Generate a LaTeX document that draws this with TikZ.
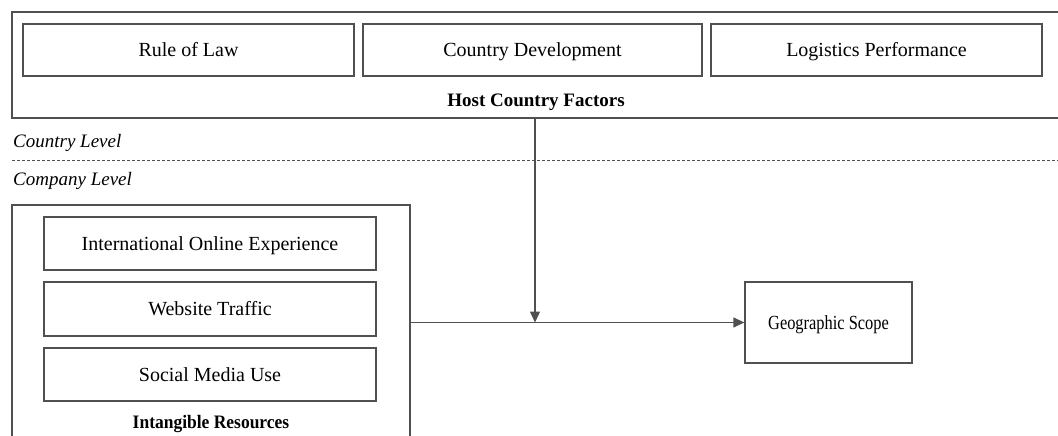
\documentclass[tikz,border=0pt]{standalone}
\usepackage{fontspec}
\setmainfont{Liberation Serif}
\usetikzlibrary{arrows.meta}
\definecolor{lin}{HTML}{505050}
\tikzset{
  box/.style={draw=lin, line width=1.3pt, rectangle, inner sep=0pt, text height=13pt, text depth=0pt, font=\fontsize{20}{24}\selectfont},
  container/.style={draw=lin, line width=1.3pt, rectangle, inner sep=0pt},
  boldlbl/.style={inner sep=0pt, font=\fontsize{19}{23}\selectfont\bfseries},
  levellbl/.style={inner sep=0pt, anchor=west, font=\fontsize{19}{23}\selectfont\itshape},
  conn/.style={draw=lin, line width=1.3pt},
  arr/.style={conn, -{Triangle[length=11pt,width=10pt]}}
}
\begin{document}
\begin{tikzpicture}[x=1pt,y=-1pt]
\clip (0,0) rectangle (1058,436);
\fill[white] (0,0) rectangle (1058,436);
% containers
\node[container, minimum width=1052pt, minimum height=106pt] (host) at (538,65) {};
\node[container, minimum width=398pt, minimum height=240pt] (intang) at (211,325) {};
% host country factors
\node[box, minimum width=331pt, minimum height=52pt] (rol) at (188.5,50) {Rule of Law};
\node[box, minimum width=339pt, minimum height=52pt] (cd) at (532.5,50) {Country Development};
\node[box, minimum width=331pt, minimum height=52pt] (lp) at (876.5,50) {Logistics Performance};
\node[boldlbl] (hostlbl) at (536,102) {Host Country Factors};
% levels
\node[levellbl] (cl) at (13,143) {Country Level};
\node[levellbl] (col) at (13,181) {Company Level};
\coordinate (dl) at (12,160);
\coordinate (dr) at (1058,160);
\draw[draw=lin, line width=1pt, dash pattern=on 3pt off 2pt] (dl) -- (dr);
% intangible resources
\node[box, minimum width=332pt, minimum height=53pt] (ioe) at (210,243.5) {International Online Experience};
\node[box, minimum width=332pt, minimum height=54pt] (wt) at (210,309) {Website Traffic};
\node[box, minimum width=332pt, minimum height=53pt] (smu) at (210,374.5) {Social Media Use};
\node[boldlbl] (intlbl) at (211,424) {\scalebox{0.92}[1]{Intangible Resources}};
% outcome
\node[box, minimum width=167pt, minimum height=81pt] (gs) at (828.5,322.5) {\scalebox{0.82}[1]{Geographic Scope}};
% connectors
\coordinate (j) at (535,322.5);
\draw[arr] (j |- host.south) -- (j);
\draw[arr] (intang.east |- j) -- (gs.west);
\end{tikzpicture}
\end{document}
